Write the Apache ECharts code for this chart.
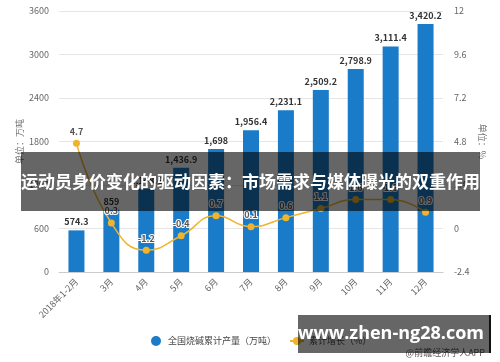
<!DOCTYPE html>
<html><head><meta charset="utf-8">
<script src="https://cdn.jsdelivr.net/npm/echarts@6/dist/echarts.min.js"></script>
<style>html,body{margin:0;padding:0;background:#fff}#c{width:500px;height:362px}</style>
</head><body><div id="c"></div>
<script>
var categories = ['2018年1-2月','3月','4月','5月','6月','7月','8月','9月','10月','11月','12月'];
var output = [574.3, 859, 1148.6, 1436.9, 1698, 1956.4, 2231.1, 2509.2, 2798.9, 3111.4, 3420.2];
var growth = [4.7, 0.3, -1.2, -0.4, 0.7, 0.1, 0.6, 1.1, 1.6, 1.6, 0.9];
var leftTicks = {min: 0, max: 3600, interval: 600};
var rightTicks = {min: -2.4, max: 12, interval: 2.4};
var seriesNames = ['全国烧碱累计产量（万吨）', '累计增长（%）'];
var titleText = '运动员身价变化的驱动因素：市场需求与媒体曝光的双重作用';
var watermark = 'www.zhen-ng28.com';
var sourceText = '@前瞻经济学人APP';

var FONT = '"Noto Sans CJK SC", "Noto Sans", sans-serif';
var chart = echarts.init(document.getElementById('c'), null, {renderer: 'canvas'});
function fmt(v){ return v.toLocaleString('en-US', {maximumFractionDigits: 1}); }
chart.setOption({
  animation: false,
  textStyle: {fontFamily: FONT},
  grid: {left: 59, right: 57, top: 11, bottom: 90},
  legend: {
    left: 146, top: 331, itemGap: 13, itemWidth: 14, itemHeight: 10,
    textStyle: {fontSize: 9, color: '#444', fontFamily: FONT},
    data: [{name: seriesNames[0], icon: 'circle'}, {name: seriesNames[1]}]
  },
  xAxis: {
    type: 'category', data: categories,
    axisLine: {lineStyle: {color: '#ccc'}},
    axisTick: {alignWithLabel: true, lineStyle: {color: '#bbb'}, length: 4},
    axisLabel: {rotate: 45, fontSize: 9, color: '#666', margin: 8, interval: 0}
  },
  yAxis: [{
    type: 'value', min: leftTicks.min, max: leftTicks.max, interval: leftTicks.interval,
    name: '单位：万吨', nameLocation: 'middle', nameRotate: 90, nameGap: 35, nameMoveOverlap: false,
    nameTextStyle: {fontSize: 9, color: '#777'},
    axisLine: {show: false}, axisTick: {show: false},
    axisLabel: {fontSize: 9, color: '#666', margin: 10, formatter: function(v){ return String(v); }},
    splitLine: {lineStyle: {color: '#e6e6e6'}}
  }, {
    type: 'value', min: rightTicks.min, max: rightTicks.max, interval: rightTicks.interval,
    name: '单位：%', nameLocation: 'middle', nameRotate: -90, nameGap: 35, nameMoveOverlap: false,
    nameTextStyle: {fontSize: 9, color: '#777'},
    axisLine: {show: false}, axisTick: {show: false},
    axisLabel: {fontSize: 9, color: '#666', margin: 11, formatter: function(v){ return String(Math.round(v*10)/10); }},
    splitLine: {show: false}
  }],
  series: [{
    name: seriesNames[0], type: 'bar', data: output, barWidth: 16,
    itemStyle: {color: '#1a7bc9'},
    label: {show: true, position: 'top', distance: 4, fontSize: 9, fontWeight: 'bold', color: '#333',
      formatter: function(p){ return fmt(p.value); }}
  }, {
    name: seriesNames[1], type: 'line', yAxisIndex: 1, data: growth, smooth: true,
    symbol: 'circle', symbolSize: 7,
    lineStyle: {color: '#efb42c', width: 1.5}, itemStyle: {color: '#efb42c'},
    label: {show: true, position: 'top', distance: 4, fontSize: 9, fontWeight: 'bold', color: '#555',
      textBorderColor: '#fff', textBorderWidth: 2}
  }],
  graphic: [
    {type: 'text', right: 15, top: 348, z: 50, style: {text: sourceText, fill: '#555', fontSize: 9, fontFamily: FONT}},
    {type: 'rect', shape: {x: 21, y: 152, width: 459, height: 59}, z: 100, style: {fill: 'rgba(0,0,0,0.6)'}},
    {type: 'text', x: 250.5, y: 181.5, z: 101, style: {text: titleText, fill: '#fff', fontSize: 17, fontWeight: 'bold',
      fontFamily: FONT, align: 'center', verticalAlign: 'middle'}},
    {type: 'rect', shape: {x: 298, y: 315, width: 192, height: 38}, z: 100, style: {fill: 'rgba(0,0,0,0.6)'}},
    {type: 'rect', shape: {x: 489, y: 315, width: 2, height: 38}, z: 100, style: {fill: '#111'}},
    {type: 'text', x: 391, y: 334, z: 101, style: {text: watermark, fill: '#fff', fontSize: 18, fontWeight: 'bold',
      fontFamily: '"Open Sans", "Noto Sans", sans-serif', align: 'center', verticalAlign: 'middle'}}
  ]
});
</script></body></html>
